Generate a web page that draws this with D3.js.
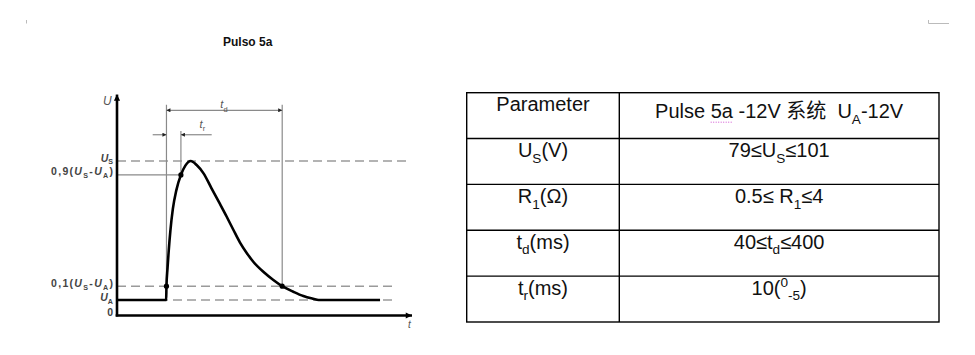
<!DOCTYPE html>
<html>
<head>
<meta charset="utf-8">
<script src="https://cdn.jsdelivr.net/npm/d3@7"></script>
<style>
  body { margin: 0; background: #fff; }
  svg { display: block; font-family: "Liberation Sans", Arial, "Noto Sans CJK SC", sans-serif; }
</style>
</head>
<body>
<div id="chart"></div>
<script>
// pulse shape, t in arbitrary time units, U in units where UA = 1 and US = 10
const pulseT = [0, 50, 50.3, 51.3, 52.6, 54.3, 56.8, 60.3, 65, 69.5, 75, 81, 88, 96, 104.7, 111.6, 118.3, 125.1, 131.9, 138.6, 148.8, 159, 168, 179.3, 189.5, 199.6, 205, 267.5];
const pulseU = [1, 1, 1.9, 3.0, 4.2, 5.5, 6.9, 8.1, 9.1, 9.7, 10, 9.74, 9.2, 8.25, 7.22, 6.39, 5.55, 4.72, 4.05, 3.48, 2.83, 2.3, 1.9, 1.54, 1.26, 1.08, 1, 1];

const UA = 1, US = 10;
const level10 = UA + 0.1 * (US - UA);
const level90 = UA + 0.9 * (US - UA);
const tRise10 = 50.3, tRise90 = 65, tFall10 = 168;

const yTickValues = [0, UA, level10, level90, US];
const yTickLabels = [
  [["0"]],
  [["U", "it"], ["A", "sub"]],
  [["0,1("], ["U", "it"], ["S", "sub"], ["-"], ["U", "it"], ["A", "sub"], [")"]],
  [["0,9("], ["U", "it"], ["S", "sub"], ["-"], ["U", "it"], ["A", "sub"], [")"]],
  [["U", "it"], ["S", "sub"]]
];

const paramCells = [
  [["Parameter"]],
  [["U"], ["S", "sub"], ["(V)"]],
  [["R"], ["1", "sub"], ["(Ω)"]],
  [["t"], ["d", "sub"], ["(ms)"]],
  [["t"], ["r", "sub"], ["(ms)"]]
];
const valueCells = [
  [["Pulse 5a -12V 系统  U"], ["A", "sub"], ["-12V"]],
  [["79≤U"], ["S", "sub"], ["≤101"]],
  [["0.5≤ R"], ["1", "sub"], ["≤4"]],
  [["40≤t"], ["d", "sub"], ["≤400"]],
  [["10("], ["0", "sup"], ["-5", "sub"], [")"]]
];

const width = 975, height = 355;
const svg = d3.select('#chart').append('svg')
  .attr('width', width)
  .attr('height', height);

// page marks
svg.append('line').attr('x1', 26.5).attr('x2', 26.5).attr('y1', 20).attr('y2', 23.5)
  .attr('stroke', '#bbb').attr('stroke-width', 1);
svg.append('path').attr('d', 'M928.5,20V23.5H949')
  .attr('fill', 'none').attr('stroke', '#bbb').attr('stroke-width', 1);

svg.append('text')
  .attr('x', 223).attr('y', 46)
  .attr('font-size', 12).attr('font-weight', 'bold')
  .attr('fill', '#111')
  .text('Pulso 5a');

// rich text helper: segments of [text, kind]
function richText(sel, segs, size) {
  let shift = 0;
  segs.forEach(([txt, kind]) => {
    let target = 0, fs = size;
    if (kind === 'sub') { target = size * 0.28; fs = size * 0.68; }
    if (kind === 'sup') { target = -size * 0.38; fs = size * 0.68; }
    const ts = sel.append('tspan')
      .attr('dy', target - shift)
      .attr('font-size', fs)
      .text(txt);
    if (kind === 'it') ts.attr('font-style', 'italic');
    shift = target;
  });
}

// ---- pulse chart ----
const x = d3.scaleLinear().domain([0, 300]).range([117, 412]);
const y = d3.scaleLinear().domain([0, 10]).range([315.5, 161]);

const defs = svg.append('defs');
defs.append('marker')
  .attr('id', 'axisArrow')
  .attr('viewBox', '0 0 10 10').attr('refX', 10).attr('refY', 5)
  .attr('markerWidth', 3.2).attr('markerHeight', 2.4).attr('orient', 'auto')
  .attr('markerUnits', 'strokeWidth')
  .append('path').attr('d', 'M0,0L10,5L0,10Z').attr('fill', '#000');
defs.append('marker')
  .attr('id', 'dimArrow')
  .attr('viewBox', '0 0 10 10').attr('refX', 10).attr('refY', 5)
  .attr('markerWidth', 5).attr('markerHeight', 4).attr('orient', 'auto-start-reverse')
  .attr('markerUnits', 'userSpaceOnUse')
  .append('path').attr('d', 'M0,0L10,5L0,10Z').attr('fill', '#222');

const chart = svg.append('g');

// dashed reference levels
const dashes = [
  { u: US, t1: 295 },
  { u: level10, t1: 281 },
  { u: UA, t1: 281 }
];
chart.selectAll('.ref')
  .data(dashes)
  .enter().append('line')
  .attr('class', 'ref')
  .attr('x1', x(0)).attr('x2', d => x(d.t1))
  .attr('y1', d => y(d.u)).attr('y2', d => y(d.u))
  .attr('stroke', '#9a9a9a').attr('stroke-width', 1.5)
  .attr('stroke-dasharray', '9,5');

// thin construction lines
const thin = chart.append('g').attr('stroke', '#8a8a8a').attr('stroke-width', 1.2).attr('fill', 'none');
thin.append('line').attr('x1', x(0)).attr('x2', x(tRise90)).attr('y1', y(level90)).attr('y2', y(level90));
thin.append('line').attr('x1', x(tRise10)).attr('x2', x(tRise10)).attr('y1', y(13.64)).attr('y2', y(level10));
thin.append('line').attr('x1', x(tFall10)).attr('x2', x(tFall10)).attr('y1', y(13.64)).attr('y2', y(level10));
thin.append('line').attr('x1', x(tRise90)).attr('x2', x(tRise90)).attr('y1', y(11.94)).attr('y2', y(level90));

// td dimension
thin.append('line')
  .attr('x1', x(tRise10)).attr('x2', x(tFall10))
  .attr('y1', y(13.28)).attr('y2', y(13.28))
  .attr('marker-start', 'url(#dimArrow)').attr('marker-end', 'url(#dimArrow)');
// tr dimension
thin.append('line')
  .attr('x1', x(36.3)).attr('x2', x(tRise10))
  .attr('y1', y(11.7)).attr('y2', y(11.7))
  .attr('marker-end', 'url(#dimArrow)');
thin.append('line')
  .attr('x1', x(96.3)).attr('x2', x(tRise90))
  .attr('y1', y(11.7)).attr('y2', y(11.7))
  .attr('marker-end', 'url(#dimArrow)');

const tdLabel = chart.append('text')
  .attr('x', x((tRise10 + tFall10) / 2) - 4).attr('y', y(13.4))
  .attr('font-size', 11).attr('fill', '#555');
richText(tdLabel, [["t", "it"], ["d", "sub"]], 11);
const trLabel = chart.append('text')
  .attr('x', x(84)).attr('y', y(12.15))
  .attr('font-size', 11).attr('fill', '#555');
richText(trLabel, [["t", "it"], ["r", "sub"]], 11);

// pulse curve
const pulse = pulseT.map((t, i) => ({ t, u: pulseU[i] }));
chart.append('path')
  .datum(pulse)
  .attr('fill', 'none')
  .attr('stroke', '#000')
  .attr('stroke-width', 2.6)
  .attr('stroke-linejoin', 'round')
  .attr('d', d3.line().x(d => x(d.t)).y(d => y(d.u)).curve(d3.curveMonotoneX));

chart.selectAll('.pt')
  .data([[tRise10, level10], [tRise90, level90], [tFall10, level10]])
  .enter().append('circle')
  .attr('class', 'pt')
  .attr('cx', d => x(d[0])).attr('cy', d => y(d[1]))
  .attr('r', 2.6).attr('fill', '#000');

// axes
const yAxis = chart.append('g')
  .attr('transform', `translate(${x(0)},0)`)
  .call(d3.axisLeft(y).tickValues(yTickValues).tickSize(0).tickPadding(4));
yAxis.select('.domain').remove();
yAxis.selectAll('.tick text')
  .text('')
  .attr('fill', '#444')
  .attr('font-size', 10.5)
  .attr('font-family', null)
  .attr('font-weight', 'bold')
  .attr('dy', (d, i) => i === 1 ? '0.1em' : (i === 4 ? '0.05em' : '0.35em'))
  .each(function (d, i) {
    richText(d3.select(this), yTickLabels[i], 10.5);
    if (i === 2 || i === 3) d3.select(this).attr('textLength', 62).attr('lengthAdjust', 'spacing');
  });

chart.append('line')
  .attr('x1', x(0)).attr('x2', x(0))
  .attr('y1', y(0) + 1).attr('y2', y(14.3))
  .attr('stroke', '#000').attr('stroke-width', 2.6)
  .attr('marker-end', 'url(#axisArrow)');
chart.append('line')
  .attr('x1', x(0) - 1.3).attr('x2', x(300))
  .attr('y1', y(0)).attr('y2', y(0))
  .attr('stroke', '#000').attr('stroke-width', 2.6)
  .attr('marker-end', 'url(#axisArrow)');

chart.append('text')
  .attr('x', x(0) - 14).attr('y', y(13.65))
  .attr('font-size', 12).attr('font-style', 'italic').attr('fill', '#555')
  .text('U');
chart.append('text')
  .attr('x', x(296)).attr('y', y(-0.8))
  .attr('font-size', 10).attr('font-style', 'italic').attr('fill', '#555')
  .text('t');

// ---- parameter table ----
const rows = d3.range(paramCells.length);
const rowY = d3.scaleBand().domain(rows).range([92.7, 322]);
const colX = [466.7, 619.3, 939];
const table = svg.append('g');

table.append('rect')
  .attr('x', colX[0]).attr('y', rowY.range()[0])
  .attr('width', colX[2] - colX[0]).attr('height', rowY.range()[1] - rowY.range()[0])
  .attr('fill', 'none').attr('stroke', '#000').attr('stroke-width', 1.4);
table.selectAll('.hline')
  .data(rows.slice(1))
  .enter().append('line')
  .attr('class', 'hline')
  .attr('x1', colX[0]).attr('x2', colX[2])
  .attr('y1', d => rowY(d)).attr('y2', d => rowY(d))
  .attr('stroke', '#000').attr('stroke-width', 1.4);
table.append('line')
  .attr('x1', colX[1]).attr('x2', colX[1])
  .attr('y1', rowY.range()[0]).attr('y2', rowY.range()[1])
  .attr('stroke', '#000').attr('stroke-width', 1.4);

const fs = 20;
rows.forEach(i => {
  const base = rowY(i) + 18.5;
  const t1 = table.append('text')
    .attr('x', (colX[0] + colX[1]) / 2).attr('y', base)
    .attr('text-anchor', 'middle').attr('font-size', fs).attr('fill', '#111')
    .style('white-space', 'pre');
  richText(t1, paramCells[i], fs);
  const t2 = table.append('text')
    .attr('x', (colX[1] + colX[2]) / 2).attr('y', i === 0 ? base + 7 : base)
    .attr('text-anchor', 'middle').attr('font-size', fs).attr('fill', '#111')
    .style('white-space', 'pre');
  richText(t2, valueCells[i], fs);
  if (i === 0) {
    // spell-check squiggle under "5a"
    const node = t2.node();
    const x0 = node.getStartPositionOfChar(6).x;
    const x1 = node.getEndPositionOfChar(7).x;
    table.append('line')
      .attr('x1', x0).attr('x2', x1)
      .attr('y1', base + 11).attr('y2', base + 11)
      .attr('stroke', '#d050d0').attr('stroke-width', 1)
      .attr('stroke-dasharray', '1,1.5');
  }
});
</script>
</body>
</html>
